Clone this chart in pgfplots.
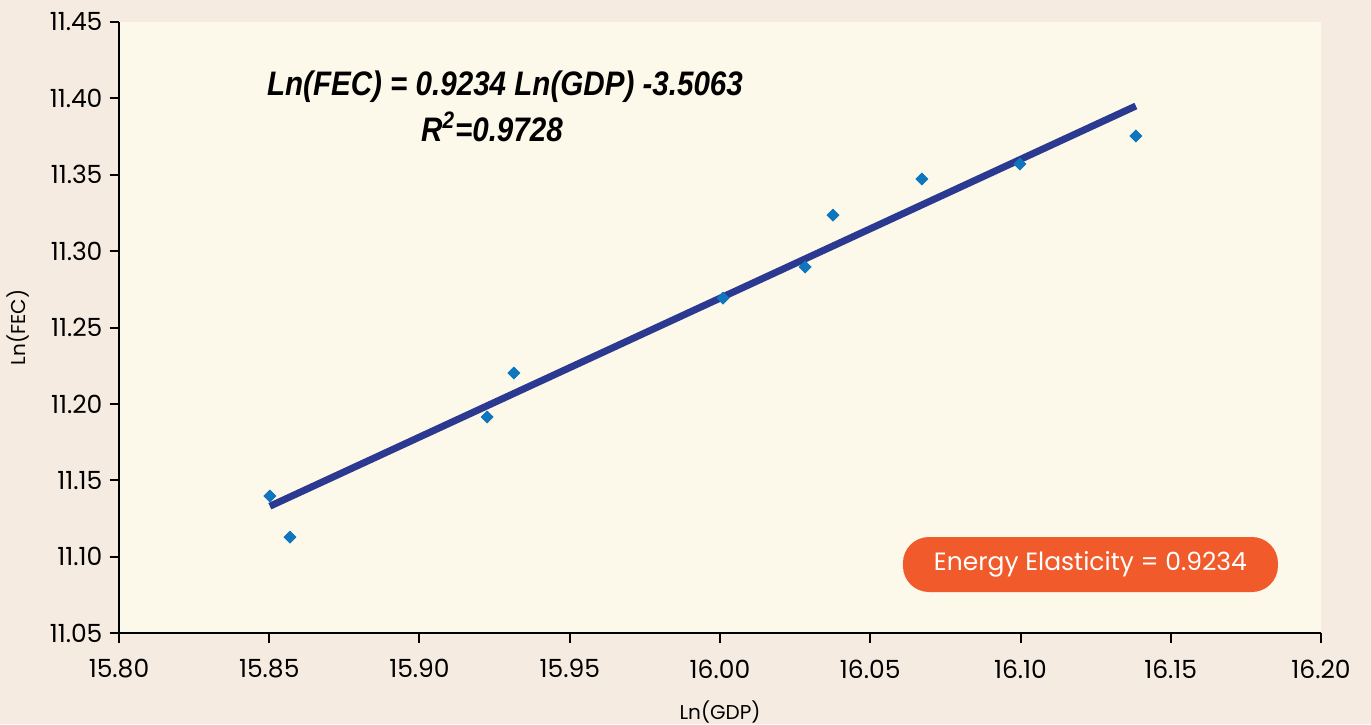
\documentclass[border=0pt]{standalone}
\usepackage{fontspec}
\setmainfont{Poppins}
\newfontfamily\eqfont{Liberation Sans}[FakeStretch=0.87]
\usepackage{pgfplots}
\pgfplotsset{compat=1.18}
\definecolor{outerbg}{HTML}{F5EBE0}
\definecolor{innerbg}{HTML}{FDF9EA}
\definecolor{trend}{HTML}{2B3990}
\definecolor{pts}{HTML}{0F75BC}
\definecolor{pill}{HTML}{F15A2B}
\begin{document}
\begin{tikzpicture}[x=1pt,y=1pt]
\useasboundingbox (0,0) rectangle (685.5,362);
\fill[outerbg] (0,0) rectangle (685.5,362);
\begin{axis}[
  at={(59.5pt,45.5pt)}, anchor=south west,
  scale only axis, width=601pt, height=305.5pt,
  xmin=15.80, xmax=16.20, ymin=11.05, ymax=11.45,
  xtick={15.80,15.85,15.90,15.95,16.00,16.05,16.10,16.15,16.20},
  ytick={11.05,11.10,11.15,11.20,11.25,11.30,11.35,11.40,11.45},
  axis x line*=bottom, axis y line*=left,
  axis line style={line width=1pt, -},
  tick style={black, line width=1pt},
  tick align=outside, major tick length=4.75pt,
  axis background/.style={fill=innerbg},
  /pgf/number format/.cd, fixed, fixed zerofill, precision=2, assume math mode=true,
  /pgfplots/.cd,
  tick label style={font=\fontsize{12.5}{14}\selectfont},
  xticklabel style={yshift=-5pt},
  label style={font=\fontsize{10}{12}\selectfont},
  xlabel={Ln(GDP)}, ylabel={Ln(FEC)},
  xlabel style={at={(axis description cs:0.5,-0.1293)}, anchor=center},
  ylabel style={at={(axis description cs:-0.0840,0.5)}, anchor=center},
  clip=false,
]
\addplot[trend, line width=3.5pt] coordinates {(15.8502,11.1330) (16.1384,11.3950)};
\addplot[only marks, mark=square*, mark size=2.1pt, color=pts,
  mark options={rotate=45, fill=pts, draw=pts}] coordinates {
  (15.8502,11.1397) (15.8569,11.1128) (15.9225,11.1914) (15.9314,11.2202)
  (16.0010,11.2693) (16.0283,11.2896) (16.0376,11.3236) (16.0672,11.3472)
  (16.0998,11.3570) (16.1384,11.3754)};
\node[font=\eqfont\bfseries\itshape\fontsize{17}{19}\selectfont, anchor=center]
  at (rel axis cs:0.3211,0.8936) {Ln(FEC) = 0.9234 Ln(GDP) -3.5063};
\node[font=\eqfont\bfseries\itshape\fontsize{17}{19}\selectfont, anchor=center]
  at (rel axis cs:0.3103,0.8282) {R\textsuperscript{2}=0.9728};
\node[fill=pill, rounded corners=13pt, minimum width=187.5pt, minimum height=27.5pt,
  text=white, font=\fontsize{12.5}{14}\selectfont, inner sep=0pt]
  at (rel axis cs:0.8082,0.1121) {Energy Elasticity = 0.9234};
\end{axis}
\end{tikzpicture}
\end{document}
